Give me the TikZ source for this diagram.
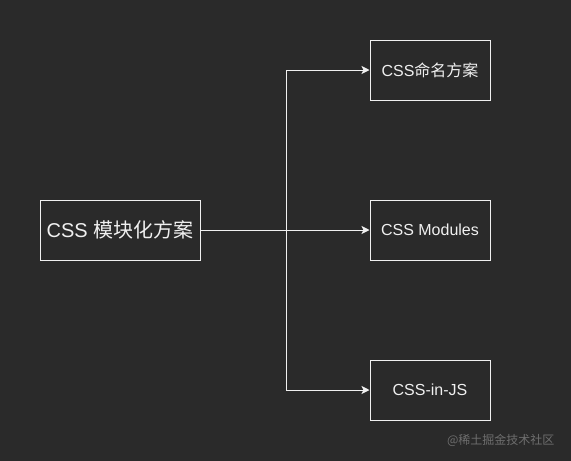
\documentclass[tikz,border=0pt]{standalone}
\usepackage{fontspec}
\setmainfont{Liberation Sans}
\newfontfamily\cjk{Noto Sans CJK SC}
\usetikzlibrary{arrows.meta}
\usetikzlibrary{positioning}
\definecolor{bgdark}{RGB}{42,42,42}
\definecolor{linewhite}{RGB}{240,240,240}
\definecolor{markgray}{RGB}{110,110,110}
\tikzset{
    box/.style = {rectangle, draw=linewhite, line width=1pt, text=linewhite, align=center, minimum width=120pt, minimum height=60pt, font=\fontsize{16pt}{18pt}\selectfont, inner sep=0pt},
    bigbox/.style = {box, minimum width=160pt, font=\fontsize{20pt}{22pt}\selectfont},
    link/.style = {draw=linewhite, line width=0.9pt, -{Stealth[length=8pt,width=8pt,inset=2pt]}},
}
\begin{document}
\begin{tikzpicture}[x=1pt, y=-1pt]
  \fill[bgdark] (0,0) rectangle (571,461);
  \useasboundingbox (0,0) rectangle (571,461);
  \node[bigbox] (src) at (120,230) {CSS {\cjk 模块化方案}};
  \node[box] (naming) at (430,70) {CSS{\cjk 命名方案}};
  \node[box] (modules) at (430,230) {CSS Modules};
  \node[box] (injs) at (430,390) {CSS-in-JS};
  \coordinate (fork) at (286,230);
  \draw[link] (src.east) -- (modules.west);
  \draw[link] (fork) |- (naming.west);
  \draw[link] (fork) |- (injs.west);
  \node[text=markgray, font=\cjk\fontsize{12pt}{14pt}\selectfont, anchor=east] (mark) at (558,440) {@稀土掘金技术社区};
\end{tikzpicture}
\end{document}
